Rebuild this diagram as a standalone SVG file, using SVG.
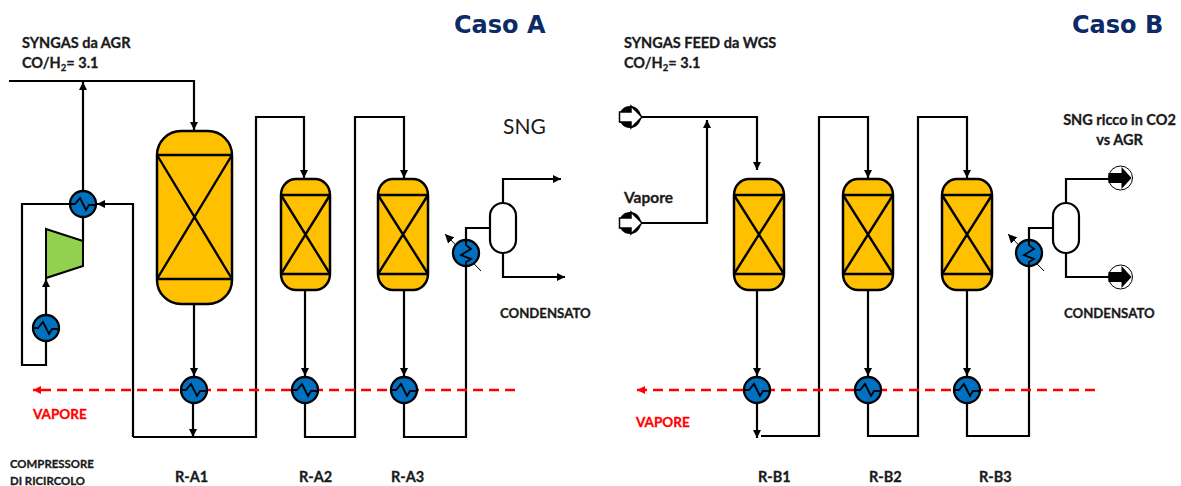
<svg xmlns="http://www.w3.org/2000/svg" width="1181" height="486" viewBox="0 0 1181 486">
<style>
text{font-family:Lato,"Open Sans","Liberation Sans",sans-serif;font-weight:700;fill:#1a1a1a;stroke:#1a1a1a;stroke-width:.3}
.t{font-family:"DejaVu Sans",sans-serif;font-size:24px;fill:#0b2a66;stroke:none;font-weight:700}
.l{font-size:14.5px}
.c{font-size:13.2px}
.s{font-size:11.4px}
.red{fill:#ff0000;stroke:#ff0000;font-size:13.500px}
.ln{fill:none;stroke:#000;stroke-width:2.200}
.dash{fill:none;stroke:#ff0000;stroke-width:2.300;stroke-dasharray:10 6}
.v{fill:#ffc000;stroke:#000;stroke-width:2.500}
.vi{fill:none;stroke:#000;stroke-width:2.400}
.hx{fill:#0070c0;stroke:#000;stroke-width:2.300}
.wave{fill:none;stroke:#000;stroke-width:1.800}
.drum{fill:#fff;stroke:#000;stroke-width:2.200}
.thin{fill:none;stroke:#000;stroke-width:1}
</style>
<defs>
<marker id="a" markerWidth="8" markerHeight="8" refX="8" refY="4" orient="auto" markerUnits="userSpaceOnUse"><path d="M0 0L8 4L0 8Z" fill="#000"/></marker>
<marker id="ab" markerWidth="9" markerHeight="9" refX="9" refY="4.500" orient="auto" markerUnits="userSpaceOnUse"><path d="M0 0L9 4.500L0 9Z" fill="#000"/></marker>
<marker id="ar" markerWidth="8" markerHeight="8" refX="8" refY="4" orient="auto" markerUnits="userSpaceOnUse"><path d="M0 0L8 4L0 8Z" fill="#ff0000"/></marker>
<g id="hxH"><circle r="13" class="hx"/><path class="wave" d="M-13 0H-8L-3-6L3 6L6 1H13"/></g>
<g id="hxV"><circle r="13" class="hx"/><path class="wave" d="M0-13V-8L5-4L-5 2L5 6L0 9V13"/></g>
<g id="inlet"><circle r="11" fill="#000"/><path d="M-10.500-5H1V-11L12 0L1 11V5H-10.500Z" fill="#fff" stroke="#000" stroke-width="1.500"/></g>
<g id="outlet"><circle r="12" fill="#fff" stroke="#000" stroke-width="1"/><path d="M-12-5H1V-11L11 0L1 11V5H-12Z" fill="#000"/></g>
</defs>
<g id="connectors">
<path class="ln" d="M9 81H194V130" marker-end="url(#a)"/>
<path class="ln" d="M83 191V82" marker-end="url(#a)"/>
<path class="ln" d="M83 217V241"/>
<path class="ln" d="M70 204H22V365H46V341"/>
<path class="ln" d="M46 315V279" marker-end="url(#a)"/>
<path class="ln" d="M133 437V204H97" marker-end="url(#a)"/>
<path class="ln" d="M194 305V376" marker-end="url(#a)"/>
<path class="ln" d="M193 403V437" marker-end="url(#a)"/>
<path class="ln" d="M133 437H256V117H304V178" marker-end="url(#a)"/>
<path class="ln" d="M305 290V376" marker-end="url(#a)"/>
<path class="ln" d="M305 403V437H355V117H404V178" marker-end="url(#a)"/>
<path class="ln" d="M404 290V376" marker-end="url(#a)"/>
<path class="ln" d="M404 403V437H466V228H490"/>
<path class="ln" d="M503 203V179H561" marker-end="url(#a)"/>
<path class="ln" d="M503 253V277H565" marker-end="url(#a)"/>
<path class="thin" d="M481 271L445 234" marker-end="url(#ab)"/>
<path class="dash" d="M515 390H33" marker-end="url(#ar)"/>
<path class="ln" d="M641 117H757V170" marker-end="url(#a)"/>
<path class="ln" d="M641 223H707V120" marker-end="url(#a)"/>
<path class="ln" d="M757 290V376" marker-end="url(#a)"/>
<path class="ln" d="M757 403V438" marker-end="url(#a)"/>
<path class="ln" d="M761 436H819V117H868V178" marker-end="url(#a)"/>
<path class="ln" d="M868 290V376" marker-end="url(#a)"/>
<path class="ln" d="M868 403V436H918V117H967V178" marker-end="url(#a)"/>
<path class="ln" d="M967 290V376" marker-end="url(#a)"/>
<path class="ln" d="M967 403V436H1029V228H1053"/>
<path class="ln" d="M1066 203V179H1109"/>
<path class="ln" d="M1066 253V277H1109"/>
<path class="thin" d="M1044 271L1008 234" marker-end="url(#ab)"/>
<path class="dash" d="M1095 390H637" marker-end="url(#ar)"/>
</g>
<g id="compressor"><path d="M46 229L83 241V266L46 278Z" fill="#92d050" stroke="#000" stroke-width="2"/></g>
<g id="hx-recycle1"><use href="#hxH" x="83" y="204"/></g>
<g id="hx-recycle2"><use href="#hxH" x="46" y="328"/></g>
<g id="R-A1"><rect x="157" y="131" width="75" height="173" rx="24" ry="24" class="v"/><path class="vi" d="M157 155H232M157 279H232M157 155L232 279M232 155L157 279"/></g>
<g id="R-A2"><rect x="281" y="179" width="49" height="111" rx="15" ry="16" class="v"/><path class="vi" d="M281 195H330M281 274H330M281 195L330 274M330 195L281 274"/></g>
<g id="R-A3"><rect x="378" y="179" width="50" height="111" rx="15" ry="16" class="v"/><path class="vi" d="M378 195H428M378 274H428M378 195L428 274M428 195L378 274"/></g>
<g id="hx-A1"><use href="#hxH" x="194" y="390"/></g>
<g id="hx-A2"><use href="#hxH" x="305" y="390"/></g>
<g id="hx-A3"><use href="#hxH" x="404" y="390"/></g>
<g id="cooler-A"><use href="#hxV" x="466" y="253"/></g>
<g id="drum-A"><rect x="490" y="203" width="26" height="50" rx="13" class="drum"/></g>
<g id="R-B1"><rect x="734" y="179" width="50" height="111" rx="15" ry="16" class="v"/><path class="vi" d="M734 195H784M734 274H784M734 195L784 274M784 195L734 274"/></g>
<g id="R-B2"><rect x="843" y="179" width="50" height="111" rx="15" ry="16" class="v"/><path class="vi" d="M843 195H893M843 274H893M843 195L893 274M893 195L843 274"/></g>
<g id="R-B3"><rect x="942" y="179" width="50" height="111" rx="15" ry="16" class="v"/><path class="vi" d="M942 195H992M942 274H992M942 195L992 274M992 195L942 274"/></g>
<g id="hx-B1"><use href="#hxH" x="757" y="390"/></g>
<g id="hx-B2"><use href="#hxH" x="868" y="390"/></g>
<g id="hx-B3"><use href="#hxH" x="967" y="390"/></g>
<g id="cooler-B"><use href="#hxV" x="1029" y="253"/></g>
<g id="drum-B"><rect x="1053" y="203" width="26" height="50" rx="13" class="drum"/></g>
<g id="feed-syngas"><use href="#inlet" x="630" y="117"/></g>
<g id="feed-vapore"><use href="#inlet" x="630" y="223"/></g>
<g id="out-sng"><use href="#outlet" x="1120.500" y="178"/></g>
<g id="out-cond"><use href="#outlet" x="1120.500" y="277"/></g>
<g id="labels">
<text class="t" x="454" y="33">Caso A</text>
<text class="t" x="1072" y="33">Caso B</text>
<text class="l" x="22" y="48">SYNGAS da AGR</text>
<text class="l" x="22" y="68">CO/H<tspan font-size="9.500" dy="3">2</tspan><tspan dy="-3">= 3.1</tspan></text>
<text class="l" x="624" y="48">SYNGAS FEED da WGS</text>
<text class="l" x="624" y="68">CO/H<tspan font-size="9.500" dy="3">2</tspan><tspan dy="-3">= 3.1</tspan></text>
<text x="503" y="134" style="font-size:21px;font-weight:400;stroke:none">SNG</text>
<text class="l" x="1119.500" y="125" text-anchor="middle">SNG ricco in CO2</text>
<text class="l" x="1119.500" y="145" text-anchor="middle">vs AGR</text>
<text x="624" y="203" style="font-size:15.500px">Vapore</text>
<text class="c" x="500" y="318">CONDENSATO</text>
<text class="c" x="1064" y="318">CONDENSATO</text>
<text class="red" x="33" y="419">VAPORE</text>
<text class="red" x="636" y="427">VAPORE</text>
<text class="s" x="10" y="468">COMPRESSORE</text>
<text class="s" x="10" y="485">DI RICIRCOLO</text>
<text class="l" x="175" y="482">R-A1</text>
<text class="l" x="299" y="482">R-A2</text>
<text class="l" x="391" y="482">R-A3</text>
<text class="l" x="758" y="482">R-B1</text>
<text class="l" x="869" y="482">R-B2</text>
<text class="l" x="979" y="482">R-B3</text>
</g>
</svg>
